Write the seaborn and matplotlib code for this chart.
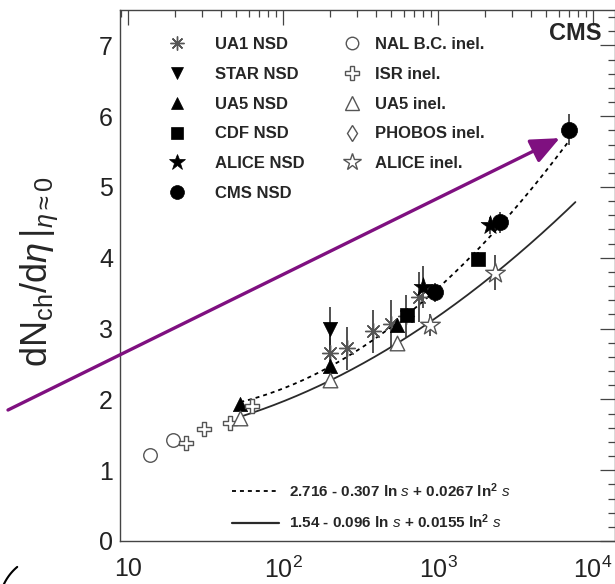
import numpy as np
import pandas as pd
import matplotlib
matplotlib.use("Agg")
import matplotlib.pyplot as plt
from matplotlib.lines import Line2D
import seaborn as sns

sns.set_style("white")
plt.rcParams["font.family"] = ["Liberation Sans", "DejaVu Sans"]
plt.rcParams["mathtext.fontset"] = "custom"
plt.rcParams["mathtext.rm"] = "Liberation Sans"
plt.rcParams["mathtext.it"] = "Liberation Sans:italic"
plt.rcParams["mathtext.bf"] = "Liberation Sans:bold"

# ---------------- data (sqrt(s) in GeV, dN/deta) ----------------
ua1_x = [200, 260, 380, 500, 620, 750]
ua1_y = [2.65, 2.72, 2.96, 3.07, 3.18, 3.45]
ua1_e = [0.30, 0.30, 0.30, 0.33, 0.30, 0.35]

star_x = [200]
star_y = [3.00]
star_e = [0.30]

ua5nsd_x = [53, 200, 546]
ua5nsd_y = [1.93, 2.47, 3.05]
ua5nsd_e = [0.05, 0.08, 0.08]

cdf_x = [630, 1800]
cdf_y = [3.19, 3.98]
cdf_e = [0.10, 0.10]

alicensd_x = [800, 2150]
alicensd_y = [3.59, 4.46]
alicensd_e = [0.30, 0.12]

cms_x = [950, 2500, 7000]
cms_y = [3.51, 4.50, 5.81]
cms_e = [0.13, 0.15, 0.22]

nal_x = [13.8, 19.5]
nal_y = [1.21, 1.43]

isr_x = [23.6, 30.8, 45.2, 62.8]
isr_y = [1.39, 1.58, 1.67, 1.90]

ua5inel_x = [53, 200, 546]
ua5inel_y = [1.74, 2.28, 2.79]

phobos_x = []
phobos_y = []

aliceinel_x = [890, 2330]
aliceinel_y = [3.05, 3.79]
aliceinel_e = [0.15, 0.25]

# fit functions a + b ln s + c ln^2 s
fit_nsd_coef = [2.716, -0.307, 0.0267]
fit_nsd_range = [53, 7000]
fit_inel_coef = [1.54, -0.096, 0.0155]
fit_inel_range = [53, 7700]
fit_nsd_label = r"2.716 - 0.307 ln $\mathit{s}$ + 0.0267 ln$^{\mathbf{2}}$ $\mathit{s}$"
fit_inel_label = r"1.54 - 0.096 ln $\mathit{s}$ + 0.0155 ln$^{\mathbf{2}}$ $\mathit{s}$"

xtick_vals = [10, 100, 1000, 10000]
xtick_labels = ["10", r"$\mathdefault{10^{2}}$", r"$\mathdefault{10^{3}}$", r"$\mathdefault{10^{4}}$"]
ytick_vals = [0, 1, 2, 3, 4, 5, 6, 7]

GRAY = "#555555"
series = [
    dict(label="UA1 NSD", x=ua1_x, y=ua1_y, e=ua1_e, marker=(8, 2, 0), s=130, fc=GRAY, ec=GRAY, lw=1.0, ms=10),
    dict(label="STAR NSD", x=star_x, y=star_y, e=star_e, marker="v", s=105, fc="black", ec="black", lw=0.5, ms=9),
    dict(label="UA5 NSD", x=ua5nsd_x, y=ua5nsd_y, e=ua5nsd_e, marker="^", s=105, fc="black", ec="black", lw=0.5, ms=9),
    dict(label="CDF NSD", x=cdf_x, y=cdf_y, e=cdf_e, marker="s", s=90, fc="black", ec="black", lw=0.5, ms=8.5),
    dict(label="ALICE NSD", x=alicensd_x, y=alicensd_y, e=alicensd_e, marker="*", s=200, fc="black", ec="black", lw=0.5, ms=12),
    dict(label="CMS NSD", x=cms_x, y=cms_y, e=cms_e, marker="o", s=135, fc="black", ec="black", lw=0.5, ms=10),
    dict(label="NAL B.C. inel.", x=nal_x, y=nal_y, e=None, marker="o", s=95, fc="white", ec=GRAY, lw=1.0, ms=9),
    dict(label="ISR inel.", x=isr_x, y=isr_y, e=None, marker="P", s=115, fc="white", ec=GRAY, lw=1.0, ms=10),
    dict(label="UA5 inel.", x=ua5inel_x, y=ua5inel_y, e=None, marker="^", s=110, fc="white", ec=GRAY, lw=1.0, ms=10),
    dict(label="PHOBOS inel.", x=phobos_x, y=phobos_y, e=None, marker="d", s=60, fc="white", ec=GRAY, lw=1.0, ms=8),
    dict(label="ALICE inel.", x=aliceinel_x, y=aliceinel_y, e=aliceinel_e, marker="*", s=220, fc="white", ec=GRAY, lw=1.0, ms=13),
]

fig = plt.figure(figsize=(6.15, 5.84), dpi=100)
ax = fig.add_axes([120 / 615, 43 / 584, 495 / 615, 531 / 584])
ax.set_xscale("log")
ax.set_xlim(10 ** (1 - 8 / 155), 10 ** (4 + 22 / 155))
ax.set_ylim(0, 7.5)

# fit curves
for coef, rng, ls, col in [(fit_nsd_coef, fit_nsd_range, (0, (2.2, 2.2)), "black"),
                           (fit_inel_coef, fit_inel_range, "-", "#2a2a2a")]:
    xs = np.geomspace(rng[0], rng[1], 300)
    ls_ = np.log(xs ** 2)
    ys = coef[0] + coef[1] * ls_ + coef[2] * ls_ ** 2
    df = pd.DataFrame({"x": xs, "y": ys})
    sns.lineplot(data=df, x="x", y="y", ax=ax, color=col, linestyle=ls, lw=1.3, zorder=3)

# error bars and markers
for sr in series:
    if len(sr["x"]) == 0:
        continue
    if sr["e"] is not None:
        ax.errorbar(sr["x"], sr["y"], yerr=sr["e"], fmt="none", ecolor="#222222",
                    elinewidth=1.1, capsize=0, zorder=2)
    sns.scatterplot(x=sr["x"], y=sr["y"], ax=ax, marker=sr["marker"], s=sr["s"],
                    color=sr["ec"], facecolor=sr["fc"], edgecolor=sr["ec"],
                    linewidth=sr["lw"], zorder=4, legend=False)

# axes styling
ax.set_xlabel("")
ax.set_ylabel("")
ax.set_xticks(xtick_vals)
ax.set_xticklabels(xtick_labels)
ax.set_yticks(ytick_vals)
ax.yaxis.set_minor_locator(matplotlib.ticker.MultipleLocator(0.2))
ax.xaxis.set_minor_locator(matplotlib.ticker.LogLocator(base=10, subs=np.arange(2, 10)))
ax.xaxis.set_minor_formatter(matplotlib.ticker.NullFormatter())
ax.tick_params(which="both", direction="in", top=True, right=True, color="#444444", width=0.9)
ax.tick_params(which="major", length=10.5, labelsize=18, colors="#444444", labelcolor="#222222")
ax.tick_params(which="minor", length=5)
ax.tick_params(axis="x", which="major", pad=11.5)
ax.tick_params(axis="y", which="major", pad=5)
for sp in ax.spines.values():
    sp.set_color("#444444")
    sp.set_linewidth(1.0)

# legends
def handle(sr):
    return Line2D([], [], ls="none", marker=sr["marker"], ms=sr["ms"], mfc=sr["fc"],
                  mec=sr["ec"], mew=sr["lw"])

col1 = series[:6]
col2 = series[6:]
leg_kw = dict(frameon=False, loc="upper left", borderpad=0, borderaxespad=0,
              prop=dict(weight="bold", size=12), labelspacing=0.89, handlelength=1.0)
leg1 = ax.legend([handle(s) for s in col1], [s["label"] for s in col1],
                 bbox_to_anchor=((168.6 - 120) / 495, (541 - 37) / 531),
                 handletextpad=1.78, **leg_kw)
ax.add_artist(leg1)
leg2 = ax.legend([handle(s) for s in col2], [s["label"] for s in col2],
                 bbox_to_anchor=((343.6 - 120) / 495, (541 - 37) / 531),
                 handletextpad=0.88, **leg_kw)
ax.add_artist(leg2)

fit_handles = [Line2D([], [], color="black", ls=(0, (2.2, 2.2)), lw=1.3),
               Line2D([], [], color="#2a2a2a", ls="-", lw=1.6)]
ax.legend(fit_handles, [fit_nsd_label, fit_inel_label], frameon=False, loc="upper left",
          borderpad=0, borderaxespad=0, prop=dict(weight="bold", size=11),
          labelspacing=0.85, handlelength=3.1, handletextpad=0.6,
          bbox_to_anchor=((232 - 120) / 495, (541 - 481) / 531))

ax.text((602 - 120) / 495, (541 - 33.5) / 531, "CMS", transform=ax.transAxes,
        ha="right", va="center", fontsize=17, fontweight="bold")

fig.text(40 / 615, 1 - 272 / 584, r"$\mathdefault{dN_{ch}/d}\eta\,|_{\eta\approx0}$",
         rotation=90, ha="center", va="center", fontsize=26)

# purple arrow
ax.annotate("", xy=(6100, 5.69), xycoords="data", xytext=(8, 584 - 410),
            textcoords="figure pixels", annotation_clip=False, zorder=6,
            arrowprops=dict(arrowstyle="-|>,head_length=0.8,head_width=0.35",
                            color="#7f1080", lw=2.4, mutation_scale=22, shrinkA=0, shrinkB=0))

# corner arc decoration
ang = np.radians(np.linspace(130, 162, 30))
ax_x = (50 + 51 * np.cos(ang)) / 615
ax_y = (-22 + 51 * np.sin(ang)) / 584
fig.add_artist(Line2D(ax_x, ax_y, transform=fig.transFigure, color="black", lw=1.5))

fig.savefig("out.png", dpi=100)
